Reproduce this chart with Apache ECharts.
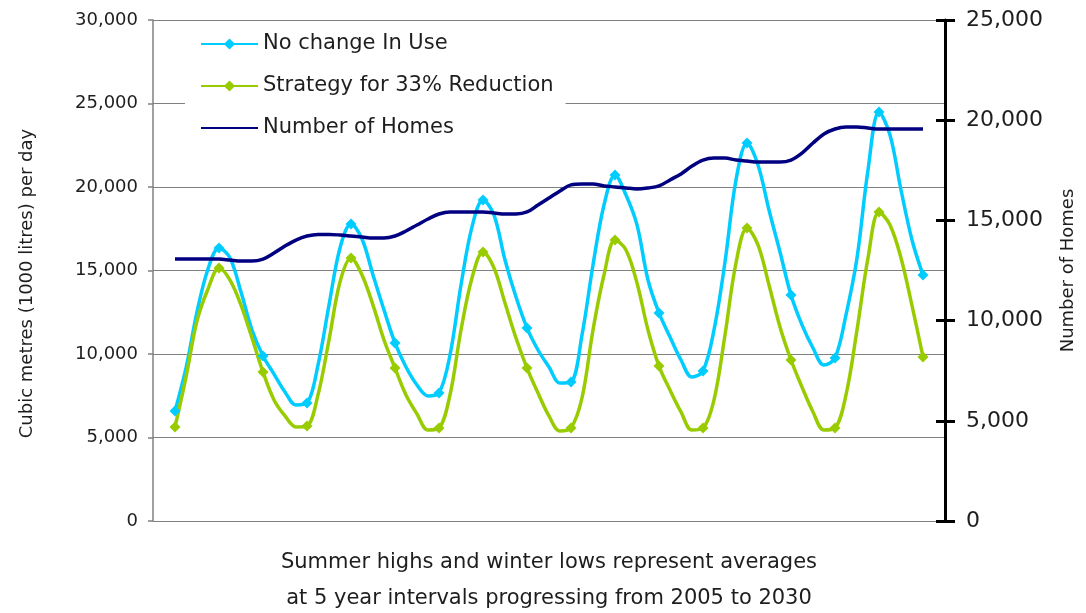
<!DOCTYPE html>
<html>
<head>
<meta charset="utf-8">
<script src="https://cdn.jsdelivr.net/npm/echarts@6/dist/echarts.min.js"></script>
<style>
  html, body { margin: 0; padding: 0; background: #ffffff; }
  #chart { width: 1086px; height: 613px; }
</style>
</head>
<body>
<div id="chart"></div>
<script>
// Readings taken along each curve (one per step; markers every 4th step)
const categories = Array.from({ length: 73 }, (_, i) => String(i));
const leadGap = 2;   // empty steps before the first reading
const tailGap = 2;   // empty steps after the last reading

const noChange = [
  6590, 9160, 12520, 15090, 16350, 15750, 13710, 11440, 9880, 8800, 7730, 6950,
  7070, 9340, 12930, 16350, 17780, 16890, 14730, 12640, 10660, 9220, 8140, 7490,
  7670, 9940, 14130, 17610, 19220, 18320, 15630, 13410, 11560, 10240, 9220, 8260,
  8320, 11140, 15330, 18920, 20720, 19520, 17730, 14430, 12460, 11020, 9640, 8620,
  8980, 11440, 15510, 20420, 22640, 21320, 18620, 16110, 13530, 11740, 10360, 9340,
  9760, 12340, 15750, 21020, 24490, 23110, 19820, 16830, 14730
];
const reduction = [
  5630, 8620, 11980, 13890, 15150, 14430, 12930, 10960, 8920, 7250, 6290, 5630,
  5690, 7550, 10840, 14310, 15750, 14730, 12930, 10840, 9160, 7550, 6410, 5450,
  5570, 7550, 11440, 14550, 16110, 15150, 13050, 10960, 9160, 7670, 6290, 5390,
  5570, 7370, 11440, 14730, 16830, 16230, 14250, 11440, 9280, 7840, 6530, 5450,
  5570, 7250, 11140, 15450, 17550, 16530, 14130, 11620, 9640, 8020, 6530, 5450,
  5570, 7550, 11440, 15750, 18500, 17730, 15750, 12900, 9820
];
const homes = [
  13070, 13070, 13070, 13070, 13070, 13020, 12970, 12970, 13070, 13370, 13720, 14020,
  14220, 14300, 14300, 14270, 14220, 14170, 14120, 14120, 14220, 14470, 14770, 15070,
  15320, 15420, 15420, 15420, 15420, 15370, 15320, 15320, 15420, 15770, 16120, 16470,
  16770, 16820, 16820, 16720, 16670, 16620, 16570, 16620, 16720, 17020, 17320, 17710,
  18010, 18110, 18110, 18010, 17960, 17910, 17910, 17910, 18010, 18360, 18860, 19310,
  19560, 19660, 19660, 19610, 19560, 19560, 19560, 19560, 19560
];
const leftTicks = [0, 5000, 10000, 15000, 20000, 25000, 30000];
const rightTicks = [0, 5000, 10000, 15000, 20000, 25000];
const seriesNames = ['No change In Use', 'Strategy for 33% Reduction', 'Number of Homes'];

function pad(arr) {
  return Array(leadGap).fill(null).concat(arr, Array(tailGap).fill(null));
}
const fmt = v => v.toLocaleString('en-US');
const markerEvery = 4;
const markerSize = (v, p) => ((p.dataIndex - leadGap) % markerEvery === 0 ? 11 : 0);
const FONT = 'DejaVu Sans';
const TXT = '#1e1e1e';

const chart = echarts.init(document.getElementById('chart'), null, { renderer: 'canvas' });
chart.setOption({
  animation: false,
  backgroundColor: '#ffffff',
  grid: { left: 153, right: 141, top: 20, bottom: 92, containLabel: false, outerBoundsMode: 'none' },
  legend: {
    data: [
      { name: seriesNames[0] },
      { name: seriesNames[1] },
      { name: seriesNames[2], itemStyle: { opacity: 0 } }
    ],
    orient: 'vertical',
    left: 185, top: 22,
    padding: [11, 12, 11, 15],
    backgroundColor: '#ffffff',
    itemWidth: 57, itemHeight: 14, itemGap: 20,
    textStyle: { fontFamily: FONT, fontSize: 21, color: TXT, lineHeight: 22 }
  },
  xAxis: {
    type: 'category',
    data: categories,
    boundaryGap: false,
    axisLine: { show: false },
    axisTick: { show: false },
    axisLabel: { show: false },
    splitLine: { show: false },
    name: 'Summer highs and winter lows represent averages\nat 5 year intervals progressing from 2005 to 2030',
    nameLocation: 'middle',
    nameGap: 24,
    nameTextStyle: { fontFamily: FONT, fontSize: 21, color: TXT, lineHeight: 36 }
  },
  yAxis: [
    {
      type: 'value', position: 'left',
      min: leftTicks[0], max: leftTicks[leftTicks.length - 1], interval: 5000,
      axisLine: { show: true, lineStyle: { color: '#808080', width: 1.5 } },
      axisTick: { show: true, length: 5, lineStyle: { color: '#808080', width: 1.5 } },
      axisLabel: { margin: 15, fontFamily: FONT, fontSize: 18, color: TXT, formatter: fmt },
      splitLine: { show: true, lineStyle: { color: '#808080', width: 1 } },
      name: 'Cubic metres (1000 litres) per day',
      nameLocation: 'middle', nameRotate: 90, nameGap: 117,
      nameTextStyle: { fontFamily: FONT, fontSize: 18, color: TXT, padding: [0, 26, 0, 0] }
    },
    {
      type: 'value', position: 'right',
      min: rightTicks[0], max: rightTicks[rightTicks.length - 1], interval: 5000,
      axisLine: { show: true, lineStyle: { color: '#000000', width: 3 } },
      axisTick: { show: true, length: 10, lineStyle: { color: '#000000', width: 3 } },
      axisLabel: { margin: 21, fontFamily: FONT, fontSize: 22, color: TXT, formatter: fmt },
      splitLine: { show: false },
      name: 'Number of Homes',
      nameLocation: 'middle', nameRotate: 90, nameGap: 114,
      nameTextStyle: { fontFamily: FONT, fontSize: 18, color: TXT }
    },
    {
      type: 'value', position: 'right',
      min: rightTicks[0], max: rightTicks[rightTicks.length - 1], interval: 5000,
      axisLine: { show: false },
      axisTick: { show: true, inside: true, length: 9, lineStyle: { color: '#000000', width: 3 } },
      axisLabel: { show: false },
      splitLine: { show: false }
    }
  ],
  series: [
    {
      name: seriesNames[0], type: 'line', yAxisIndex: 0,
      data: pad(noChange), smooth: 0.35,
      symbol: 'diamond', symbolSize: markerSize, showAllSymbol: true,
      lineStyle: { color: '#00CCFF', width: 3.5 },
      itemStyle: { color: '#00CCFF' }, z: 3
    },
    {
      name: seriesNames[1], type: 'line', yAxisIndex: 0,
      data: pad(reduction), smooth: 0.35,
      symbol: 'diamond', symbolSize: markerSize, showAllSymbol: true,
      lineStyle: { color: '#99CC00', width: 3.5 },
      itemStyle: { color: '#99CC00' }, z: 3
    },
    {
      name: seriesNames[2], type: 'line', yAxisIndex: 1,
      data: pad(homes), smooth: 0.35,
      symbol: 'none',
      lineStyle: { color: '#000080', width: 3.5 },
      itemStyle: { color: '#000080' }, z: 3
    }
  ]
});
</script>
</body>
</html>
